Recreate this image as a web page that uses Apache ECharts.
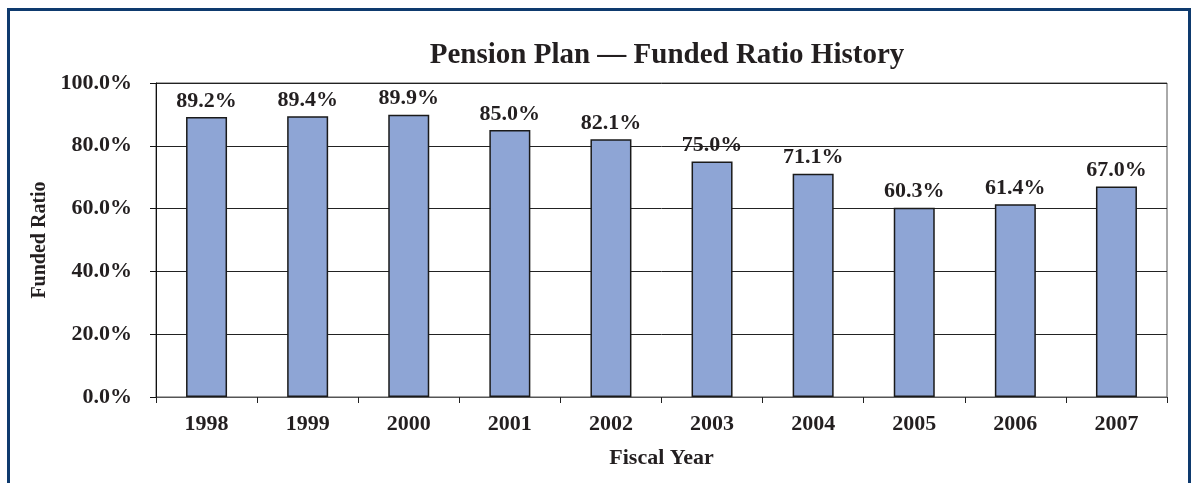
<!DOCTYPE html>
<html><head><meta charset="utf-8">
<script src="https://cdn.jsdelivr.net/npm/echarts@6/dist/echarts.min.js"></script>
<style>html,body{margin:0;padding:0;background:#fff}#c{width:1191px;height:483px}</style>
</head><body><div id="c"></div>
<script>
const categories = ['1998','1999','2000','2001','2002','2003','2004','2005','2006','2007'];
const fundedRatio = [89.2, 89.4, 89.9, 85.0, 82.1, 75.0, 71.1, 60.3, 61.4, 67.0];
const titleText = 'Pension Plan \u2014 Funded Ratio History';
const xName = 'Fiscal Year';
const yName = 'Funded Ratio';

const font = '"Liberation Serif", "Times New Roman", serif';
const txt = '#231f20';
const chart = echarts.init(document.getElementById('c'), null, {renderer: 'canvas'});
chart.setOption({
  animation: false,
  backgroundColor: '#fff',
  graphic: [{
    type: 'rect', left: 6, top: 7, z: 100,
    shape: {width: 1181, height: 520},
    style: {fill: 'none', stroke: '#0e3a6e', lineWidth: 3}
  }],
  title: {
    text: titleText, left: 662, top: 36, textAlign: 'center',
    textStyle: {fontFamily: font, fontWeight: 'bold', fontSize: 29, color: txt}
  },
  grid: {left: 156, top: 83, width: 1011, height: 314, show: true, borderColor: '#555', borderWidth: 1, containLabel: false},
  xAxis: {
    type: 'category', data: categories,
    name: xName, nameLocation: 'middle', nameGap: 50,
    nameTextStyle: {fontFamily: font, fontWeight: 'bold', fontSize: 22, color: txt},
    axisLine: {lineStyle: {color: '#555', width: 1}},
    axisTick: {show: true, length: 6, lineStyle: {color: '#222'}},
    axisLabel: {fontFamily: font, fontWeight: 'bold', fontSize: 22, color: txt, margin: 16}
  },
  yAxis: {
    type: 'value', min: 0, max: 100, interval: 20,
    name: yName, nameLocation: 'middle', nameGap: 106,
    nameTextStyle: {fontFamily: font, fontWeight: 'bold', fontSize: 20, color: txt},
    axisLine: {show: true, lineStyle: {color: '#111', width: 1}},
    axisTick: {show: true, length: 6, lineStyle: {color: '#111'}},
    splitLine: {lineStyle: {color: '#222', width: 1}},
    axisLabel: {fontFamily: font, fontWeight: 'bold', fontSize: 22, color: txt, margin: 24,
      formatter: v => v.toFixed(1) + '%'}
  },
  series: [{
    type: 'bar', data: fundedRatio, barWidth: 41,
    itemStyle: {color: '#8ea5d5', borderColor: '#1a1a1a', borderWidth: 1.5},
    label: {show: true, position: 'top', distance: 5, fontFamily: font, fontWeight: 'bold', fontSize: 22, color: txt,
      formatter: p => p.value.toFixed(1) + '%'}
  }]
});
</script></body></html>
